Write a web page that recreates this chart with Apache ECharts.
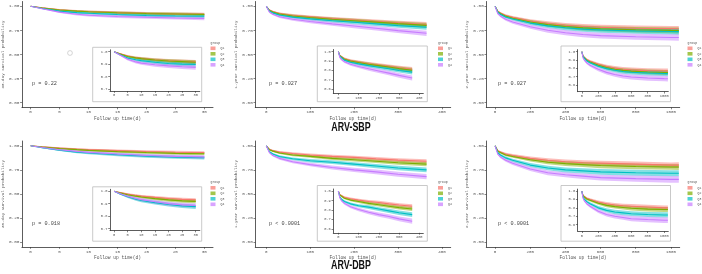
<!DOCTYPE html>
<html>
<head>
<meta charset="utf-8">
<script src="https://cdn.jsdelivr.net/npm/echarts@6/dist/echarts.min.js"></script>
<style>
html, body { margin: 0; padding: 0; background: #fff; }
#main { width: 702px; height: 274px; }
</style>
</head>
<body>
<div id="main"></div>
<script>
//*************** data ***************
var groups = ['Q1', 'Q2', 'Q3', 'Q4'];
var colors = ['#F8766D', '#7CAE00', '#00BFC4', '#C77CFF'];

var t_30d = [0, 2, 5, 8, 10, 15, 20, 25, 30];
var t_1y = [0, 7, 15, 30, 60, 100, 150, 200, 250, 300, 365];
var t_2y = [0, 15, 30, 60, 100, 200, 300, 400, 500, 600, 800, 1000, 1045];

// ARV-SBP, 30 days
var sbp30_q1 = [1, 0.985, 0.965, 0.952, 0.946, 0.935, 0.927, 0.922, 0.918];
var sbp30_q2 = [1, 0.983, 0.962, 0.950, 0.944, 0.933, 0.925, 0.920, 0.915];
var sbp30_q3 = [1, 0.978, 0.950, 0.935, 0.928, 0.915, 0.905, 0.900, 0.897];
var sbp30_q4 = [1, 0.975, 0.940, 0.918, 0.908, 0.895, 0.886, 0.879, 0.874];
var sbp30_ci_q1 = [0, 0.005, 0.008, 0.010, 0.011, 0.013, 0.014, 0.015, 0.016];
var sbp30_ci_q2 = [0, 0.005, 0.008, 0.010, 0.011, 0.013, 0.014, 0.015, 0.016];
var sbp30_ci_q3 = [0, 0.006, 0.009, 0.011, 0.012, 0.014, 0.015, 0.016, 0.017];
var sbp30_ci_q4 = [0, 0.006, 0.010, 0.012, 0.013, 0.015, 0.016, 0.017, 0.018];

// ARV-SBP, 1 year
var sbp1y_q1 = [1, 0.962, 0.945, 0.925, 0.905, 0.890, 0.872, 0.858, 0.843, 0.828, 0.812];
var sbp1y_q2 = [1, 0.958, 0.940, 0.920, 0.900, 0.884, 0.866, 0.851, 0.836, 0.820, 0.802];
var sbp1y_q3 = [1, 0.952, 0.932, 0.910, 0.888, 0.870, 0.851, 0.835, 0.818, 0.800, 0.782];
var sbp1y_q4 = [1, 0.940, 0.918, 0.892, 0.866, 0.843, 0.818, 0.795, 0.772, 0.748, 0.720];
var sbp1y_ci_q1 = [0, 0.008, 0.010, 0.012, 0.014, 0.016, 0.018, 0.019, 0.020, 0.022, 0.024];
var sbp1y_ci_q2 = [0, 0.008, 0.010, 0.012, 0.014, 0.016, 0.018, 0.019, 0.020, 0.022, 0.024];
var sbp1y_ci_q3 = [0, 0.008, 0.011, 0.013, 0.015, 0.017, 0.019, 0.020, 0.022, 0.023, 0.025];
var sbp1y_ci_q4 = [0, 0.009, 0.011, 0.013, 0.016, 0.018, 0.020, 0.022, 0.024, 0.025, 0.027];

// ARV-SBP, 2 years
var sbp2y_q1 = [1, 0.950, 0.930, 0.905, 0.885, 0.848, 0.822, 0.803, 0.790, 0.782, 0.773, 0.768, 0.767];
var sbp2y_q2 = [1, 0.945, 0.925, 0.898, 0.877, 0.838, 0.810, 0.790, 0.776, 0.767, 0.757, 0.750, 0.749];
var sbp2y_q3 = [1, 0.940, 0.918, 0.890, 0.868, 0.826, 0.797, 0.777, 0.763, 0.754, 0.744, 0.738, 0.737];
var sbp2y_q4 = [1, 0.925, 0.900, 0.866, 0.838, 0.788, 0.752, 0.726, 0.708, 0.696, 0.684, 0.677, 0.676];
var sbp2y_ci_q1 = [0, 0.009, 0.011, 0.013, 0.015, 0.019, 0.022, 0.024, 0.026, 0.027, 0.028, 0.029, 0.030];
var sbp2y_ci_q2 = [0, 0.009, 0.011, 0.013, 0.015, 0.019, 0.022, 0.024, 0.026, 0.027, 0.028, 0.029, 0.030];
var sbp2y_ci_q3 = [0, 0.010, 0.012, 0.014, 0.016, 0.020, 0.023, 0.025, 0.027, 0.028, 0.029, 0.030, 0.031];
var sbp2y_ci_q4 = [0, 0.011, 0.013, 0.016, 0.018, 0.022, 0.025, 0.027, 0.029, 0.030, 0.032, 0.033, 0.033];

// ARV-DBP, 30 days
var dbp30_q1 = [1, 0.990, 0.977, 0.966, 0.960, 0.950, 0.941, 0.934, 0.930];
var dbp30_q2 = [1, 0.988, 0.972, 0.960, 0.953, 0.940, 0.930, 0.922, 0.918];
var dbp30_q3 = [1, 0.980, 0.955, 0.935, 0.925, 0.908, 0.893, 0.882, 0.876];
var dbp30_q4 = [1, 0.982, 0.960, 0.942, 0.932, 0.915, 0.900, 0.890, 0.885];
var dbp30_ci_q1 = [0, 0.005, 0.007, 0.009, 0.010, 0.012, 0.013, 0.014, 0.014];
var dbp30_ci_q2 = [0, 0.005, 0.008, 0.010, 0.011, 0.013, 0.014, 0.015, 0.015];
var dbp30_ci_q3 = [0, 0.006, 0.010, 0.012, 0.013, 0.015, 0.016, 0.017, 0.018];
var dbp30_ci_q4 = [0, 0.006, 0.010, 0.012, 0.013, 0.015, 0.016, 0.017, 0.018];

// ARV-DBP, 1 year
var dbp1y_q1 = [1, 0.965, 0.950, 0.935, 0.920, 0.905, 0.890, 0.880, 0.865, 0.852, 0.840];
var dbp1y_q2 = [1, 0.960, 0.945, 0.925, 0.905, 0.890, 0.870, 0.855, 0.840, 0.825, 0.810];
var dbp1y_q3 = [1, 0.940, 0.915, 0.890, 0.865, 0.845, 0.830, 0.810, 0.790, 0.770, 0.750];
var dbp1y_q4 = [1, 0.930, 0.900, 0.870, 0.835, 0.805, 0.775, 0.750, 0.730, 0.705, 0.680];
var dbp1y_ci_q1 = [0, 0.007, 0.009, 0.011, 0.013, 0.015, 0.017, 0.018, 0.019, 0.020, 0.021];
var dbp1y_ci_q2 = [0, 0.007, 0.009, 0.011, 0.013, 0.015, 0.017, 0.018, 0.019, 0.021, 0.022];
var dbp1y_ci_q3 = [0, 0.008, 0.011, 0.013, 0.015, 0.017, 0.019, 0.020, 0.022, 0.024, 0.025];
var dbp1y_ci_q4 = [0, 0.008, 0.011, 0.014, 0.016, 0.018, 0.020, 0.022, 0.024, 0.026, 0.028];

// ARV-DBP, 2 years
var dbp2y_q1 = [1, 0.950, 0.935, 0.915, 0.900, 0.870, 0.850, 0.835, 0.825, 0.820, 0.810, 0.800, 0.800];
var dbp2y_q2 = [1, 0.945, 0.930, 0.905, 0.890, 0.855, 0.830, 0.815, 0.805, 0.795, 0.785, 0.780, 0.780];
var dbp2y_q3 = [1, 0.930, 0.905, 0.875, 0.850, 0.800, 0.770, 0.750, 0.740, 0.730, 0.720, 0.715, 0.715];
var dbp2y_q4 = [1, 0.915, 0.885, 0.850, 0.820, 0.760, 0.720, 0.700, 0.685, 0.670, 0.660, 0.652, 0.652];
var dbp2y_ci_q1 = [0, 0.009, 0.011, 0.013, 0.015, 0.018, 0.021, 0.023, 0.025, 0.026, 0.027, 0.028, 0.029];
var dbp2y_ci_q2 = [0, 0.009, 0.011, 0.013, 0.015, 0.019, 0.022, 0.024, 0.026, 0.027, 0.028, 0.029, 0.030];
var dbp2y_ci_q3 = [0, 0.010, 0.012, 0.015, 0.017, 0.021, 0.024, 0.026, 0.028, 0.029, 0.031, 0.032, 0.032];
var dbp2y_ci_q4 = [0, 0.011, 0.013, 0.016, 0.018, 0.022, 0.025, 0.027, 0.029, 0.031, 0.032, 0.034, 0.034];

// tick labels
var main_y_ticks = [0, 0.25, 0.5, 0.75, 1];
var x_ticks_30d = [0, 5, 10, 15, 20, 25, 30];
var x_ticks_1y = [0, 100, 200, 300, 400];
var x_ticks_2y = [0, 200, 400, 600, 800, 1000];
var inset_y_ticks_30d = [0.7, 0.8, 0.9, 1.0];
var inset_y_ticks_long = [0.6, 0.7, 0.8, 0.9, 1.0];

var p_values = ['p = 0.22', 'p = 0.027', 'p = 0.027', 'p = 0.018', 'p < 0.0001', 'p < 0.0001'];

//*************** layout ***************
var FONT = 'Liberation Mono';
var TXT = '#555';
var AXIS = '#333';

var cols = [
    {main_left: 21, main_w: 192, in_left: 110, in_w: 89.8, frame_x: 92.7, frame_w: 109, legend_x: 210.5, name_gap: 14.5, p_x: 32},
    {main_left: 255.3, main_w: 195.4, in_left: 333.3, in_w: 90, frame_x: 317.3, frame_w: 110, legend_x: 438, name_gap: 12.5, p_x: 269},
    {main_left: 486.3, main_w: 193.4, in_left: 577.7, in_w: 90.6, frame_x: 561, frame_w: 109.5, legend_x: 687.5, name_gap: 12.5, p_x: 498}
];
var row_dy = [0, 139.5];

var scales = [
    {x_min: -1.5, x_max: 31.5, x_ticks: x_ticks_30d, in_min: 0.685, in_max: 1.015, in_ticks: inset_y_ticks_30d,
     in_top: 49.8, in_h: 41.2, frame_y: 47.3, frame_h: 54.4, y_name: '30-day survival probability'},
    {x_min: -25, x_max: 420, x_ticks: x_ticks_1y, in_min: 0.557, in_max: 1.023, in_ticks: inset_y_ticks_long,
     in_top: 49.5, in_h: 43.8, frame_y: 46, frame_h: 55.7, y_name: '1-year survival probability'},
    {x_min: -50, x_max: 1050, x_ticks: x_ticks_2y, in_min: 0.52, in_max: 1.025, in_ticks: inset_y_ticks_long,
     in_top: 49.6, in_h: 42.1, frame_y: 46, frame_h: 55.7, y_name: '2-year survival probability'}
];

var panels = [
    {row: 0, col: 0, t: t_30d, s: [sbp30_q1, sbp30_q2, sbp30_q3, sbp30_q4], ci: [sbp30_ci_q1, sbp30_ci_q2, sbp30_ci_q3, sbp30_ci_q4]},
    {row: 0, col: 1, t: t_1y, s: [sbp1y_q1, sbp1y_q2, sbp1y_q3, sbp1y_q4], ci: [sbp1y_ci_q1, sbp1y_ci_q2, sbp1y_ci_q3, sbp1y_ci_q4]},
    {row: 0, col: 2, t: t_2y, s: [sbp2y_q1, sbp2y_q2, sbp2y_q3, sbp2y_q4], ci: [sbp2y_ci_q1, sbp2y_ci_q2, sbp2y_ci_q3, sbp2y_ci_q4]},
    {row: 1, col: 0, t: t_30d, s: [dbp30_q1, dbp30_q2, dbp30_q3, dbp30_q4], ci: [dbp30_ci_q1, dbp30_ci_q2, dbp30_ci_q3, dbp30_ci_q4]},
    {row: 1, col: 1, t: t_1y, s: [dbp1y_q1, dbp1y_q2, dbp1y_q3, dbp1y_q4], ci: [dbp1y_ci_q1, dbp1y_ci_q2, dbp1y_ci_q3, dbp1y_ci_q4]},
    {row: 1, col: 2, t: t_2y, s: [dbp2y_q1, dbp2y_q2, dbp2y_q3, dbp2y_q4], ci: [dbp2y_ci_q1, dbp2y_ci_q2, dbp2y_ci_q3, dbp2y_ci_q4]}
];

//*************** build ***************
var grids = [], xAxes = [], yAxes = [], series = [], legends = [], graphics = [];

function band_series(t, s, ci, color, gi, z) {
    var pts = t.map(function (x, k) { return [x, s[k] - ci[k], s[k] + ci[k]]; });
    return {
        type: 'custom', xAxisIndex: gi, yAxisIndex: gi, z: z, silent: true,
        data: pts,
        encode: {x: 0, y: [1, 2]},
        renderItem: function (params, api) {
            if (params.dataIndex !== 0) return null;
            var upper = [], lower = [];
            for (var k = 0; k < pts.length; k++) {
                upper.push(api.coord([pts[k][0], pts[k][2]]));
                lower.unshift(api.coord([pts[k][0], pts[k][1]]));
            }
            return {type: 'polygon', shape: {points: upper.concat(lower)}, style: {fill: color, opacity: 0.48}};
        }
    };
}

function axis_x(gi, sc, ticks, size, z, name) {
    return {
        type: 'value', gridIndex: gi, min: sc.x_min, max: sc.x_max, z: z,
        axisLine: {show: true, onZero: false, lineStyle: {color: AXIS, width: 0.8}},
        axisTick: {show: true, length: 1.8, customValues: ticks, lineStyle: {color: AXIS, width: 0.6}},
        axisLabel: {customValues: ticks, fontSize: size, color: TXT, margin: 2.5, fontFamily: FONT,
            formatter: function (v) { return String(v); }},
        splitLine: {show: false},
        name: name || '', nameLocation: 'middle', nameGap: 8.5,
        nameTextStyle: {fontSize: 4.6, color: TXT, fontFamily: FONT}
    };
}

function axis_y(gi, min, max, ticks, size, digits, z, name, gap) {
    return {
        type: 'value', gridIndex: gi, min: min, max: max, z: z,
        axisLine: {show: true, onZero: false, lineStyle: {color: AXIS, width: 0.8}},
        axisTick: {show: true, length: 1.8, customValues: ticks, lineStyle: {color: AXIS, width: 0.6}},
        axisLabel: {customValues: ticks, fontSize: size, color: TXT, margin: 2.5, fontFamily: FONT,
            formatter: function (v) { return v.toFixed(digits); }},
        splitLine: {show: false},
        name: name || '', nameLocation: 'middle', nameGap: gap || 10,
        nameTextStyle: {fontSize: 4.2, color: TXT, fontFamily: FONT}
    };
}

panels.forEach(function (p, pi) {
    var c = cols[p.col], sc = scales[p.col], dy = row_dy[p.row];

    // main plot
    var gm = grids.length;
    grids.push({left: c.main_left, top: 1.5 + dy, width: c.main_w, height: 106});
    xAxes.push(axis_x(gm, sc, sc.x_ticks, 4.2, 0, 'Follow up time(d)'));
    yAxes.push(axis_y(gm, -0.05, 1.05, main_y_ticks, 4.4, 2, 0, sc.y_name, c.name_gap));

    // inset plot
    var gin = grids.length;
    grids.push({left: c.in_left, top: sc.in_top + dy, width: c.in_w, height: sc.in_h});
    xAxes.push(axis_x(gin, sc, sc.x_ticks, 3.7, 6));
    yAxes.push(axis_y(gin, sc.in_min, sc.in_max, sc.in_ticks, 3.7, 1, 6));

    [gm, gin].forEach(function (gi, k) {
        var z = k === 0 ? 2 : 7;
        for (var g = 0; g < 4; g++) {
            series.push(band_series(p.t, p.s[g], p.ci[g], colors[g], gi, z));
        }
        for (var g2 = 0; g2 < 4; g2++) {
            series.push({
                type: 'line', name: groups[g2], xAxisIndex: gi, yAxisIndex: gi, z: z,
                data: p.t.map(function (x, i) { return [x, p.s[g2][i]]; }),
                symbol: 'none', silent: true,
                lineStyle: {color: colors[g2], width: 1.1},
                itemStyle: {color: colors[g2]}
            });
        }
    });

    // inset frame
    graphics.push({
        type: 'rect', z: 5, silent: true,
        shape: {x: c.frame_x, y: sc.frame_y + dy, width: c.frame_w, height: sc.frame_h},
        style: {fill: '#fff', stroke: '#bbb', lineWidth: 0.8}
    });

    // p value
    graphics.push({
        type: 'text', x: c.p_x, y: 84 + dy, z: 8,
        style: {text: p_values[pi], fill: '#444', font: '5.2px "Liberation Mono"', verticalAlign: 'middle'}
    });

    // legend
    graphics.push({
        type: 'text', x: c.legend_x, y: 42.7 + dy, z: 8,
        style: {text: 'group', fill: TXT, font: '3.2px "Liberation Mono"', verticalAlign: 'middle'}
    });
    legends.push({
        orient: 'vertical', left: c.legend_x, top: 46.5 + dy, padding: 0,
        itemWidth: 5, itemHeight: 3.6, itemGap: 1.9, selectedMode: false,
        textStyle: {fontSize: 3.2, color: TXT, fontFamily: FONT, lineHeight: 3.6},
        data: groups.map(function (g, i) {
            return {name: g, icon: 'rect', itemStyle: {color: colors[i], opacity: 0.7}};
        })
    });
});

// stray circle mark in the first panel
graphics.push({
    type: 'circle', z: 8, silent: true,
    shape: {cx: 70, cy: 53, r: 2.4},
    style: {fill: 'none', stroke: '#bbb', lineWidth: 0.6}
});

// row titles
graphics.push({
    type: 'text', x: 351, y: 127.5, z: 8, scaleX: 0.74,
    style: {text: 'ARV-SBP', fill: '#111', font: 'bold 12px "Liberation Sans"', align: 'center', verticalAlign: 'middle'}
});
graphics.push({
    type: 'text', x: 351, y: 265.5, z: 8, scaleX: 0.74,
    style: {text: 'ARV-DBP', fill: '#111', font: 'bold 12px "Liberation Sans"', align: 'center', verticalAlign: 'middle'}
});

var chart = echarts.init(document.getElementById('main'));
chart.setOption({
    animation: false,
    backgroundColor: '#fff',
    grid: grids,
    xAxis: xAxes,
    yAxis: yAxes,
    legend: legends,
    graphic: graphics,
    series: series
});
</script>
</body>
</html>
